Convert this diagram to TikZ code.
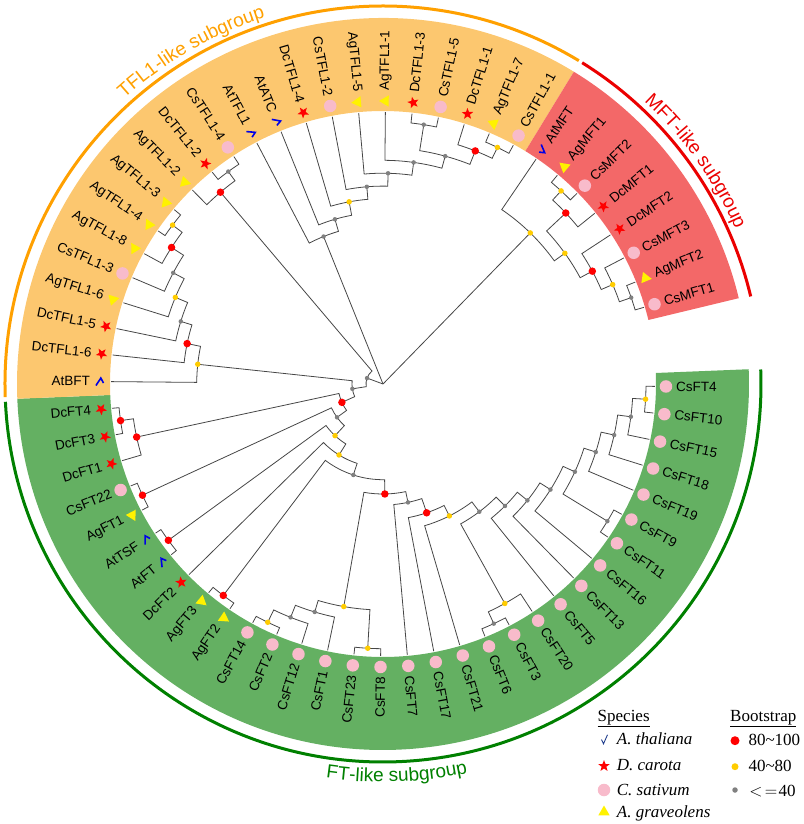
\documentclass[tikz,border=0pt]{standalone}
\usepackage{fontspec}
\setmainfont{Liberation Sans}
\newfontfamily\legendfont{Liberation Serif}
\usetikzlibrary{shapes.geometric,decorations.text}
\pgfdeclarelayer{front}
\pgfsetlayers{main,front}

\definecolor{tflband}{RGB}{252,199,111}
\definecolor{mftband}{RGB}{243,104,104}
\definecolor{ftband}{RGB}{100,176,98}
\definecolor{tflline}{RGB}{255,160,0}
\definecolor{mftline}{RGB}{235,0,0}
\definecolor{ftline}{RGB}{0,128,0}
\definecolor{cspink}{RGB}{248,187,203}
\definecolor{bsgold}{RGB}{255,204,0}
\definecolor{bsgray}{RGB}{128,128,128}
\definecolor{atblue}{RGB}{0,0,230}
\definecolor{legblue}{RGB}{30,60,140}
\definecolor{branchgray}{RGB}{70,70,70}

\newcommand\angoff{-0.5}
\newcommand\angstep{5.625}
\newcommand\rleaf{272}
\newcommand\rsym{283}
\newcommand\rlab{293}

\tikzset{
  branch/.style={draw=branchgray, line width=0.8pt},
  tiplabel/.style={inner sep=0pt, font=\fontsize{13.5}{16}\selectfont},
  dcsym/.style={star, star points=5, star point ratio=2.4, fill=red, inner sep=0pt, minimum size=12pt},
  cssym/.style={circle, fill=cspink, inner sep=0pt, minimum size=12.5pt},
  agsym/.style={regular polygon, regular polygon sides=3, fill=yellow, inner sep=0pt, minimum size=13pt},
  bshigh/.style={circle, fill=red, inner sep=0pt, minimum size=7.5pt},
  bsmid/.style={circle, fill=bsgold, inner sep=0pt, minimum size=5.5pt},
  bslow/.style={circle, fill=bsgray, inner sep=0pt, minimum size=4.5pt},
  atcheck/.pic={\draw[atblue, line width=1.6pt] (-3.5pt,1.5pt) -- (-0.8pt,-3.5pt) -- (4pt,4pt);},
  legtext/.style={inner sep=0pt, anchor=base west, font=\legendfont\fontsize{17}{20}\selectfont},
}

% species marks
\newcommand\symdc[2]{\node[dcsym, rotate=#1] (#2) at (#1:\rsym pt) {};}
\newcommand\symcs[2]{\node[cssym] (#2) at (#1:\rsym pt) {};}
\newcommand\symag[2]{\node[agsym, rotate=#1] (#2) at (#1:\rsym pt) {};}
\newcommand\symat[2]{\pic[rotate=#1] at (#1:\rsym pt) {atcheck};}

% one tip: name, slot, species
\newcommand\leaf[3]{%
  \pgfmathsetmacro\tipang{\angoff-#2*\angstep}%
  \expandafter\xdef\csname ang#1\endcsname{\tipang}%
  \coordinate (#1) at (\tipang:\rleaf pt);%
  \csname sym#3\endcsname{\tipang}{#1-s}%
  \pgfmathtruncatemacro\rside{cos(\tipang)>=0}%
  \ifnum\rside=1
    \node[tiplabel, rotate=\tipang, anchor=west] (#1-t) at (\tipang:\rlab pt) {#1};%
  \else
    \pgfmathsetmacro\tipflip{\tipang+180}%
    \node[tiplabel, rotate=\tipflip, anchor=east] (#1-t) at (\tipang:\rlab pt) {#1};%
  \fi}

% one inner node: name, radius, child, child, bootstrap
\newcommand\clade[5]{%
  \edef\angA{\csname ang#3\endcsname}%
  \edef\angB{\csname ang#4\endcsname}%
  \pgfmathsetmacro\angM{(\angA+\angB)/2}%
  \expandafter\xdef\csname ang#1\endcsname{\angM}%
  \coordinate (#1) at (\angM:#2pt);%
  \draw[branch] (#3) -- (\angA:#2pt) arc[start angle=\angA, end angle=\angB, radius=#2pt] -- (#4);%
  \begin{pgfonlayer}{front}\node[#5] (#1-bs) at (#1) {};\end{pgfonlayer}}

\begin{document}
\begin{tikzpicture}
\useasboundingbox (-383pt,-440pt) rectangle (420pt,384pt);

%bands
\fill[ftband] (2.3125:273pt) arc[start angle=2.3125, end angle=-177.6875, radius=273pt] -- (-177.6875:366pt) arc[start angle=-177.6875, end angle=2.3125, radius=366pt] -- cycle;
\fill[tflband] (-177.6875:273pt) arc[start angle=-177.6875, end angle=-301.4375, radius=273pt] -- (-301.4375:366pt) arc[start angle=-301.4375, end angle=-177.6875, radius=366pt] -- cycle;
\fill[mftband] (-301.4375:273pt) arc[start angle=-301.4375, end angle=-346.4375, radius=273pt] -- (-346.4375:366pt) arc[start angle=-346.4375, end angle=-301.4375, radius=366pt] -- cycle;

%group arcs
\draw[ftline, line width=3pt] (2.2:378pt) arc[start angle=2.2, end angle=-177.3, radius=378pt];
\draw[tflline, line width=3pt] (-178:378pt) arc[start angle=-178, end angle=-301.2, radius=378pt];
\draw[mftline, line width=3pt] (-301.8:378pt) arc[start angle=-301.8, end angle=-346.6, radius=378pt];
\path[decorate, decoration={text along path, text align=center, text={|\color{tflline}\fontsize{19}{19}\selectfont|TFL1-like subgroup}}] (145:385pt) arc[start angle=145, end angle=95, radius=385pt];
\path[decorate, decoration={text along path, text align=center, text={|\color{mftline}\fontsize{19}{19}\selectfont|MFT-like subgroup}}] (55:385pt) arc[start angle=55, end angle=16, radius=385pt];
\path[decorate, decoration={text along path, text align=center, text={|\color{ftline}\fontsize{19}{19}\selectfont|FT-like subgroup}}] (-110:398pt) arc[start angle=-110, end angle=-66, radius=398pt];

%tips
\leaf{CsFT4}{0}{cs}
\leaf{CsFT10}{1}{cs}
\leaf{CsFT15}{2}{cs}
\leaf{CsFT18}{3}{cs}
\leaf{CsFT19}{4}{cs}
\leaf{CsFT9}{5}{cs}
\leaf{CsFT11}{6}{cs}
\leaf{CsFT16}{7}{cs}
\leaf{CsFT13}{8}{cs}
\leaf{CsFT5}{9}{cs}
\leaf{CsFT20}{10}{cs}
\leaf{CsFT3}{11}{cs}
\leaf{CsFT6}{12}{cs}
\leaf{CsFT21}{13}{cs}
\leaf{CsFT17}{14}{cs}
\leaf{CsFT7}{15}{cs}
\leaf{CsFT8}{16}{cs}
\leaf{CsFT23}{17}{cs}
\leaf{CsFT1}{18}{cs}
\leaf{CsFT12}{19}{cs}
\leaf{CsFT2}{20}{cs}
\leaf{CsFT14}{21}{cs}
\leaf{AgFT2}{22}{ag}
\leaf{AgFT3}{23}{ag}
\leaf{DcFT2}{24}{dc}
\leaf{AtFT}{25}{at}
\leaf{AtTSF}{26}{at}
\leaf{AgFT1}{27}{ag}
\leaf{CsFT22}{28}{cs}
\leaf{DcFT1}{29}{dc}
\leaf{DcFT3}{30}{dc}
\leaf{DcFT4}{31}{dc}
\leaf{AtBFT}{32}{at}
\leaf{DcTFL1-6}{33}{dc}
\leaf{DcTFL1-5}{34}{dc}
\leaf{AgTFL1-6}{35}{ag}
\leaf{CsTFL1-3}{36}{cs}
\leaf{AgTFL1-8}{37}{ag}
\leaf{AgTFL1-4}{38}{ag}
\leaf{AgTFL1-3}{39}{ag}
\leaf{AgTFL1-2}{40}{ag}
\leaf{DcTFL1-2}{41}{dc}
\leaf{CsTFL1-4}{42}{cs}
\leaf{AtTFL1}{43}{at}
\leaf{AtATC}{44}{at}
\leaf{DcTFL1-4}{45}{dc}
\leaf{CsTFL1-2}{46}{cs}
\leaf{AgTFL1-5}{47}{ag}
\leaf{AgTFL1-1}{48}{ag}
\leaf{DcTFL1-3}{49}{dc}
\leaf{CsTFL1-5}{50}{cs}
\leaf{DcTFL1-1}{51}{dc}
\leaf{AgTFL1-7}{52}{ag}
\leaf{CsTFL1-1}{53}{cs}
\leaf{AtMFT}{54}{at}
\leaf{AgMFT1}{55}{ag}
\leaf{CsMFT2}{56}{cs}
\leaf{DcMFT1}{57}{dc}
\leaf{DcMFT2}{58}{dc}
\leaf{CsMFT3}{59}{cs}
\leaf{AgMFT2}{60}{ag}
\leaf{CsMFT1}{61}{cs}

%FT clades
\clade{ftA}{263}{CsFT4}{CsFT10}{bsmid}
\clade{ftB}{250}{CsFT15}{ftA}{bslow}
\clade{ftC}{236.7}{CsFT18}{ftB}{bslow}
\clade{ftD}{223.4}{CsFT19}{ftC}{bslow}
\clade{ftE}{263}{CsFT9}{CsFT11}{bslow}
\clade{ftF}{211}{ftE}{ftD}{bslow}
\clade{ftG}{198}{CsFT16}{ftF}{bslow}
\clade{ftH}{185.5}{CsFT13}{ftG}{bslow}
\clade{ftI}{172.5}{CsFT5}{ftH}{bslow}
\clade{ftJ}{264}{CsFT3}{CsFT6}{bslow}
\clade{ftK}{251}{CsFT20}{ftJ}{bsmid}
\clade{ftL}{160}{ftK}{ftI}{bslow}
\clade{ftM}{147.7}{CsFT21}{ftL}{bsmid}
\clade{ftN}{136}{CsFT17}{ftM}{bshigh}
\clade{ftO}{121}{CsFT7}{ftN}{bslow}
\clade{ftP}{264.7}{CsFT8}{CsFT23}{bsmid}
\clade{ftQ}{264.7}{CsFT2}{CsFT14}{bsmid}
\clade{ftR}{251}{CsFT12}{ftQ}{bslow}
\clade{ftS}{238}{CsFT1}{ftR}{bslow}
\clade{ftT}{226}{ftP}{ftS}{bsmid}
\clade{ftU}{110}{ftT}{ftO}{bshigh}
\clade{ftV}{265}{AgFT2}{AgFT3}{bshigh}
\clade{ftW}{95.7}{ftV}{ftU}{bslow}
\clade{ftX}{83.5}{DcFT2}{ftW}{bsmid}
\clade{ftY}{265.5}{AtFT}{AtTSF}{bshigh}
\clade{ftZ}{70.5}{ftY}{ftX}{bsmid}
\clade{ftAA}{265}{AgFT1}{CsFT22}{bshigh}
\clade{ftAB}{56.8}{ftAA}{ftZ}{bslow}
\clade{ftAC}{265}{DcFT3}{DcFT4}{bshigh}
\clade{ftAD}{252}{DcFT1}{ftAC}{bshigh}
\clade{ftRoot}{45}{ftAD}{ftAB}{bshigh}

%TFL1 clades
\clade{tfA}{263.7}{AgTFL1-4}{AgTFL1-3}{bsmid}
\clade{tfB}{251.7}{AgTFL1-8}{tfA}{bshigh}
\clade{tfC}{237.4}{CsTFL1-3}{tfB}{bslow}
\clade{tfD}{225}{AgTFL1-6}{tfC}{bsmid}
\clade{tfE}{211.7}{DcTFL1-5}{tfD}{bslow}
\clade{tfF}{200}{DcTFL1-6}{tfE}{bshigh}
\clade{tfG}{186.3}{AtBFT}{tfF}{bsmid}
\clade{tfH}{262.8}{DcTFL1-2}{CsTFL1-4}{bslow}
\clade{tfI}{251.4}{AgTFL1-2}{tfH}{bshigh}
\clade{tfJ}{262.8}{AgTFL1-7}{CsTFL1-1}{bsmid}
\clade{tfK}{250.7}{DcTFL1-1}{tfJ}{bshigh}
\clade{tfL}{262.5}{DcTFL1-3}{CsTFL1-5}{bslow}
\clade{tfM}{236.2}{tfL}{tfK}{bslow}
\clade{tfN}{223.7}{AgTFL1-1}{tfM}{bslow}
\clade{tfO}{210.8}{AgTFL1-5}{tfN}{bslow}
\clade{tfP}{197.9}{CsTFL1-2}{tfO}{bslow}
\clade{tfQ}{185.3}{DcTFL1-4}{tfP}{bsmid}
\clade{tfR}{171.6}{AtATC}{tfQ}{bslow}
\clade{tfS}{159}{AtTFL1}{tfR}{bslow}

%MFT clades
\clade{mfA}{262.7}{AgMFT1}{CsMFT2}{bsmid}
\clade{mfB}{250.3}{mfA}{DcMFT1}{bshigh}
\clade{mfC}{262.8}{AgMFT2}{CsMFT1}{bslow}
\clade{mfD}{250.3}{CsMFT3}{mfC}{bsmid}
\clade{mfE}{237.8}{DcMFT2}{mfD}{bshigh}
\clade{mfF}{224}{mfB}{mfE}{bsmid}
\clade{mfRoot}{211}{AtMFT}{mfF}{bsmid}

%backbone
\clade{bbA}{31}{tfG}{ftRoot}{bslow}
\clade{bbB}{17}{bbA}{tfI}{bslow}
\coordinate (root) at (0,0);
\draw[branch] (root) -- (bbB);
\draw[branch] (root) -- (tfS);
\draw[branch] (root) -- (mfRoot);

%legend
\node[legtext] (species) at (214.5pt,-337pt) {\underline{Species}};
\node[legtext] (bootstrap) at (347pt,-337pt) {\underline{Bootstrap}};
\draw[legblue, line width=0.9pt] (218.5pt,-355.5pt) -- (220.5pt,-359.8pt) -- (224.5pt,-350.8pt);
\node[dcsym] (leg-dc) at (221pt,-382pt) {};
\node[cssym] (leg-cs) at (221pt,-406pt) {};
\node[agsym] (leg-ag) at (221pt,-428pt) {};
\node[legtext] (leg-at-t) at (233.7pt,-360pt) {\itshape A. thaliana};
\node[legtext] (leg-dc-t) at (233.7pt,-386.7pt) {\itshape D. carota};
\node[legtext] (leg-cs-t) at (233.7pt,-411pt) {\itshape C. sativum};
\node[legtext] (leg-ag-t) at (233.7pt,-433.7pt) {\itshape A. graveolens};
\node[circle, fill=red, inner sep=0pt, minimum size=9pt] (leg-hi) at (352pt,-356.7pt) {};
\node[circle, fill=bsgold, inner sep=0pt, minimum size=7pt] (leg-mid) at (352pt,-382.7pt) {};
\node[circle, fill=bsgray, inner sep=0pt, minimum size=5.5pt] (leg-lo) at (352pt,-406pt) {};
\node[legtext] (leg-hi-t) at (365.3pt,-361.7pt) {80\textasciitilde100};
\node[legtext] (leg-mid-t) at (365.3pt,-387.7pt) {40\textasciitilde80};
\node[legtext] (leg-lo-t) at (365.3pt,-412pt) {\makebox[15pt]{$<$}\makebox[15pt]{$=$}40};
\end{tikzpicture}
\end{document}
